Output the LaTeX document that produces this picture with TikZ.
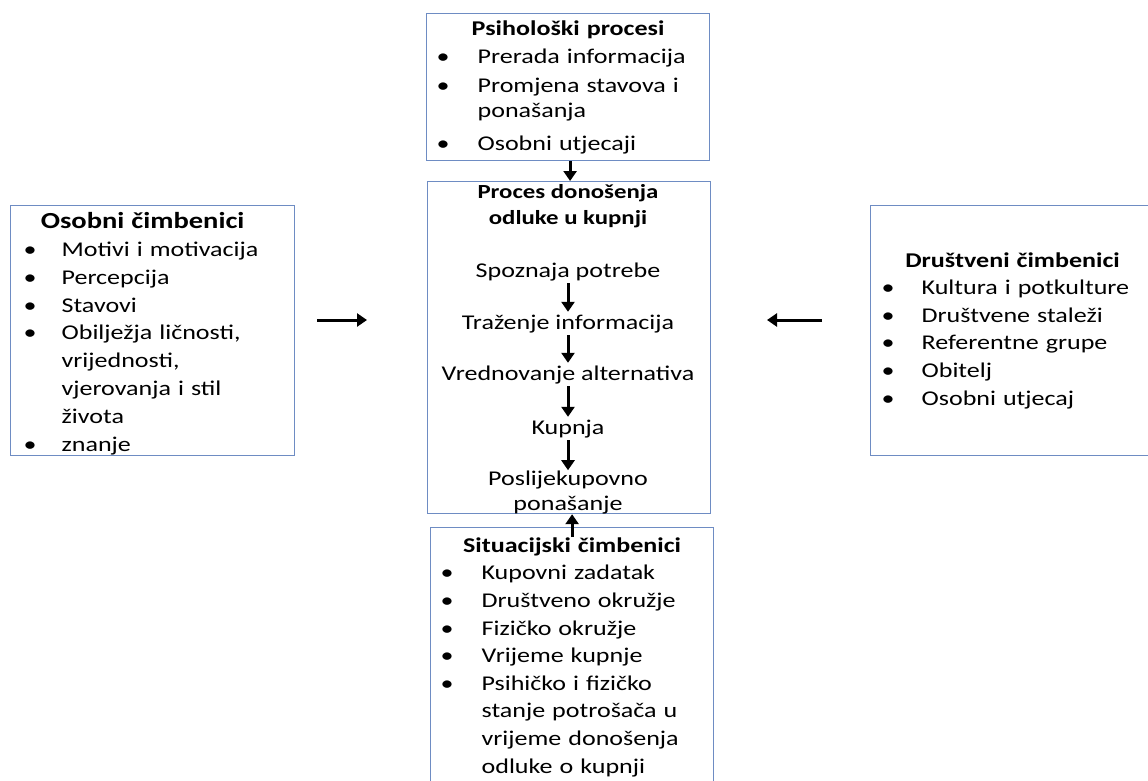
\documentclass[tikz,border=0pt]{standalone}
\usepackage{fontspec}
\setmainfont[FakeStretch=1.24]{Carlito}
\usepackage{xcolor}
\usepackage{tikz}
\usetikzlibrary{arrows.meta,positioning}

\definecolor{boxline}{RGB}{110,140,195}

\newlength{\bulind}
\setlength{\bulind}{51pt}
\newlength{\bulx}
\setlength{\bulx}{13pt}
\newcommand{\boxtitle}[1]{{\centering\textbf{#1}\par}}
\newcommand{\bitem}[1]{\noindent\makebox[\bulind][l]{\hspace{\bulx}\textbullet}#1\par}
\newcommand{\bcont}[1]{\noindent\hspace*{\bulind}#1\par}

\begin{document}
\begin{tikzpicture}[
    x=1pt, y=-1pt,
    box/.style={rectangle, draw=boxline, line width=1.2pt, inner sep=0pt, anchor=north west, text width=#1, minimum width=#1, font=\fontsize{21}{27.6}\selectfont},
    stage/.style={inner sep=0pt, text height=17pt, text depth=6pt, anchor=base, font=\fontsize{21}{26}\selectfont},
    arrow/.style={-{Triangle[width=13pt,length=10pt]}, line width=3pt}
]
\useasboundingbox (0,0) rectangle (1148,780);

% Outer boxes
\node[box=284, minimum height=250] (osobni) at (10,205) {%
    \fontsize{21}{27.8}\selectfont
    {\centering\hspace*{-20pt}\rule{0pt}{22pt}\fontsize{23}{28}\selectfont\textbf{Osobni čimbenici}\par}
    \bitem{Motivi i motivacija}
    \bitem{Percepcija}
    \bitem{Stavovi}
    \bitem{Obilježja ličnosti,}
    \bcont{vrijednosti,}
    \bcont{vjerovanja i stil}
    \bcont{života}
    \bitem{znanje}};
\node[box=283, minimum height=147] (psiho) at (426,13) {%
    \fontsize{21}{25}\selectfont\setlength{\bulx}{10pt}%
    \boxtitle{Psihološki procesi}
    \vspace{3pt}\bitem{Prerada informacija}
    \vspace{4pt}\bitem{Promjena stavova i}
    \bcont{ponašanja}
    \vspace{8pt}\bitem{Osobni utjecaji}};
\node[box=283, minimum height=332] (proces) at (427,181) {};
\node[box=283, minimum height=259] (situacija) at (430,527) {%
    \setlength{\bulx}{10pt}%
    \boxtitle{Situacijski čimbenici}
    \bitem{Kupovni zadatak}
    \bitem{Društveno okružje}
    \bitem{Fizičko okružje}
    \bitem{Vrijeme kupnje}
    \bitem{Psihičko i fizičko}
    \bcont{stanje potrošača u}
    \bcont{vrijeme donošenja}
    \bcont{odluke o kupnji}};
\node[box=284, minimum height=250] (drustveni) at (870,205) {%
    \setlength{\bulx}{11pt}%
    \boxtitle{Društveni čimbenici}
    \bitem{Kultura i potkulture}
    \bitem{Društvene staleži}
    \bitem{Referentne grupe}
    \bitem{Obitelj}
    \bitem{Osobni utjecaj}};

% Decision process
\node[font=\bfseries\fontsize{20}{26}\selectfont, align=center, inner sep=0pt] (proces-title) at (568,206) {Proces donošenja\\odluke u kupnji};
\node[stage] (spoznaja) at (568,277) {Spoznaja potrebe};
\node[stage] (trazenje) at (568,329) {Traženje informacija};
\node[stage] (vrednovanje) at (568,380) {Vrednovanje alternativa};
\node[stage] (kupnja) at (568,434) {Kupnja};
\node[font=\fontsize{21}{25}\selectfont, align=center, inner sep=0pt] (poslije) at (568,492) {Poslijekupovno\\ponašanje};

% Side arrow ends
\coordinate (l-start) at (317,320);
\coordinate (l-end) at (367,320);
\coordinate (r-start) at (822,320);
\coordinate (r-end) at (767,320);

% Arrows
\draw[arrow] ([xshift=2pt]psiho.south) -- ([xshift=2pt]psiho.south |- proces.north);
\draw[arrow] ([yshift=-10pt]situacija.north) -- (situacija.north |- proces.south);
\draw[arrow] (spoznaja) -- (trazenje);
\draw[arrow] (trazenje) -- (vrednovanje);
\draw[arrow] (vrednovanje) -- (kupnja);
\draw[arrow] (kupnja) -- (poslije);
\draw[arrow] (l-start) -- (l-end);
\draw[arrow] (r-start) -- (r-end);

\end{tikzpicture}
\end{document}
